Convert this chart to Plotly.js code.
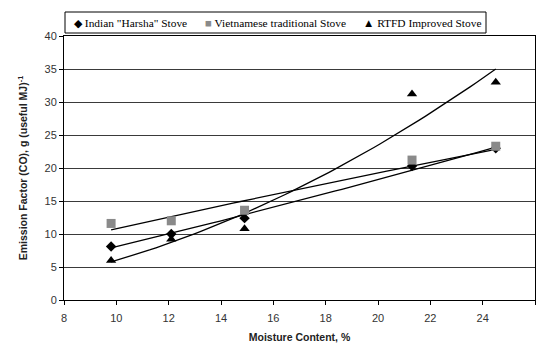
<!DOCTYPE html>
<html>
<head>
<meta charset="utf-8">
<script src="https://cdn.plot.ly/plotly-3.0.1.min.js"></script>
<style>
html,body{margin:0;padding:0;background:#fff;}
#chart{width:538px;height:343px;}
</style>
</head>
<body>
<div id="chart"></div>
<script>
// Moisture content (%)
const moisture = [9.8, 12.1, 14.9, 21.3, 24.5];
// Emission factor (CO), g (useful MJ)^-1
const indianHarsha = [8.1, 10.0, 12.4, 20.3, 23.0];
const vietnameseTraditional = [11.6, 12.0, 13.6, 21.2, 23.3];
const rtfdImproved = [6.0, 9.2, 10.8, 31.2, 33.0];

const seriesNames = ['Indian "Harsha" Stove', 'Vietnamese traditional Stove', 'RTFD Improved Stove'];
const legendGlyphs = ['\u25C6', '\u25A0', '\u25B2'];
const xTicks = [8, 10, 12, 14, 16, 18, 20, 22, 24, 26];
const yTicks = [0, 5, 10, 15, 20, 25, 30, 35, 40];

// Power-law trendline (least squares in log-log space), like a spreadsheet "power" trendline
function powerFit(xs, ys) {
  const lx = xs.map(Math.log), ly = ys.map(Math.log);
  const n = xs.length;
  const mx = lx.reduce((a, b) => a + b, 0) / n;
  const my = ly.reduce((a, b) => a + b, 0) / n;
  let sxy = 0, sxx = 0;
  for (let i = 0; i < n; i++) { sxy += (lx[i] - mx) * (ly[i] - my); sxx += (lx[i] - mx) ** 2; }
  const b = sxy / sxx, a = Math.exp(my - b * mx);
  const xmin = Math.min(...xs), xmax = Math.max(...xs);
  const fx = [], fy = [];
  for (let k = 0; k <= 60; k++) {
    const x = xmin + (xmax - xmin) * k / 60;
    fx.push(x); fy.push(a * Math.pow(x, b));
  }
  return {x: fx, y: fy};
}

const seriesData = [indianHarsha, vietnameseTraditional, rtfdImproved];
const symbols = ['diamond', 'square', 'triangle-up'];
const colors = ['#000000', '#8a8a8a', '#000000'];
const sizes = [8, 9, 9];

const traces = [];
seriesData.forEach((ys, i) => {
  const f = powerFit(moisture, ys);
  traces.push({
    x: f.x, y: f.y, mode: 'lines', showlegend: false, hoverinfo: 'skip',
    line: {color: '#000', width: 1.3}
  });
});
seriesData.forEach((ys, i) => {
  traces.push({
    x: moisture, y: ys, mode: 'markers', name: seriesNames[i], showlegend: false,
    marker: {symbol: symbols[i], color: colors[i], size: sizes[i], line: {width: 0}}
  });
});

// Legend drawn as a boxed row of text entries (plot area: 64..535 px wide, 36..300 px tall)
const plotL = 64, plotW = 471, plotB = 300, plotH = 264;
const px = v => (v - plotL) / plotW;
const py = v => (plotB - v) / plotH;
const legendStarts = [72, 203, 361];
const annotations = seriesNames.map((name, i) => ({
  xref: 'paper', yref: 'paper', x: px(legendStarts[i]), y: py(23), xanchor: 'left', yanchor: 'middle',
  showarrow: false,
  text: '<span style="color:' + colors[i] + '">' + legendGlyphs[i] + '</span> ' + name,
  font: {family: 'Liberation Serif, Times New Roman, serif', size: 11.4, color: '#000'}
}));
const shapes = [{
  type: 'rect', xref: 'paper', yref: 'paper',
  x0: px(65), x1: px(486), y0: py(33), y1: py(12),
  line: {color: '#000', width: 1}, fillcolor: '#fff', layer: 'above'
}];

const layout = {
  width: 538, height: 343,
  margin: {l: 64, r: 3, t: 36, b: 43},
  paper_bgcolor: '#fff', plot_bgcolor: '#fff',
  font: {family: 'Liberation Sans, Arial, sans-serif', color: '#333', size: 11},
  showlegend: false,
  annotations: annotations,
  shapes: shapes,
  xaxis: {
    range: [8, 26], tickvals: xTicks, ticktext: xTicks.map(String),
    ticks: 'outside', ticklen: 4, tickcolor: '#000', ticklabelstandoff: 4,
    showgrid: false, zeroline: false,
    showline: true, linecolor: '#000', linewidth: 1, mirror: true,
    tickfont: {size: 11, color: '#333'},
    title: {text: '<b>Moisture Content, %</b>', font: {size: 10.5, color: '#222'}, standoff: 14}
  },
  yaxis: {
    range: [0, 40], tickvals: yTicks, ticktext: yTicks.map(String),
    ticks: 'outside', ticklen: 4, tickcolor: '#000',
    showgrid: true, gridcolor: '#3a3a3a', gridwidth: 1, zeroline: false,
    showline: true, linecolor: '#000', linewidth: 1, mirror: true,
    tickfont: {size: 11, color: '#333'},
    title: {text: '<b>Emission Factor (CO), g (useful MJ)<sup>-1</sup></b>', font: {size: 10.5, color: '#222'}, standoff: 14}
  }
};

Plotly.newPlot('chart', traces, layout, {displayModeBar: false, staticPlot: true});
</script>
</body>
</html>
